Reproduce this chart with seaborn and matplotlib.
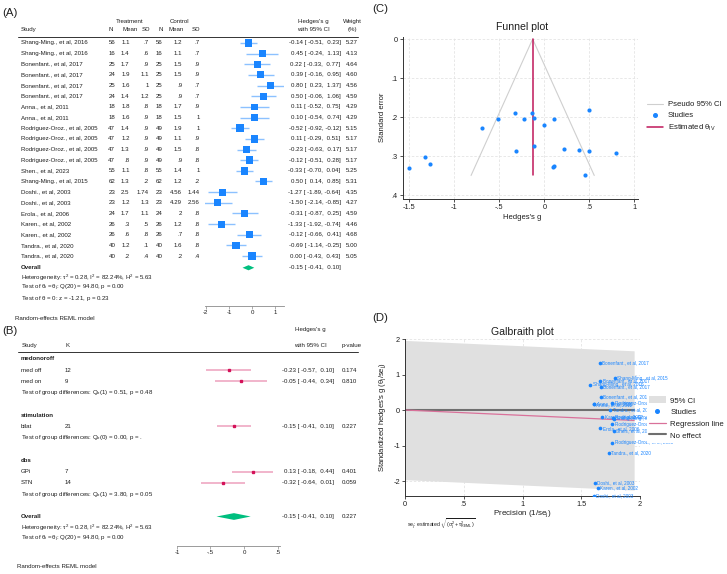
import numpy as np
import matplotlib
matplotlib.use('Agg')
import matplotlib.pyplot as plt
import matplotlib.transforms as mtransforms
from matplotlib.lines import Line2D
from matplotlib.patches import Patch
import seaborn as sns

sns.set_theme(style='white')
plt.rcParams['font.family'] = ['Liberation Sans', 'DejaVu Sans']
plt.rcParams['mathtext.fontset'] = 'custom'
plt.rcParams['mathtext.rm'] = 'Liberation Sans'
plt.rcParams['mathtext.it'] = 'Liberation Sans:italic'
plt.rcParams['mathtext.bf'] = 'Liberation Sans:bold'

#~~~~~~~~~~~~~~~~~~~~~~~~~~~~~~~~~~~~~~~~~~#
### Data.
#~~~~~~~~~~~~~~~~~~~~~~~~~~~~~~~~~~~~~~~~~~#

studies = ['Shang-Ming., et al, 2016', 'Shang-Ming., et al, 2016', 'Bonenfant., et al, 2017',
           'Bonenfant., et al, 2017', 'Bonenfant., et al, 2017', 'Bonenfant., et al, 2017',
           'Anna., et al, 2011', 'Anna., et al, 2011', 'Rodriguez-Oroz., et al, 2005',
           'Rodriguez-Oroz., et al, 2005', 'Rodriguez-Oroz., et al, 2005', 'Rodriguez-Oroz., et al, 2005',
           'Shen., et al, 2023', 'Shang-Ming., et al, 2015', 'Doshi., et al, 2003', 'Doshi., et al, 2003',
           'Erola., et al, 2006', 'Karen., et al, 2002', 'Karen., et al, 2002', 'Tandra., et al, 2020',
           'Tandra., et al, 2020']
n_trt = [56, 16, 25, 24, 25, 24, 18, 18, 47, 47, 47, 47, 55, 62, 23, 23, 24, 26, 26, 40, 40]
mean_trt = ['1.1', '1.4', '1.7', '1.9', '1.6', '1.4', '1.8', '1.6', '1.4', '1.2', '1.3', '.8', '1.1',
            '1.3', '2.5', '1.2', '1.7', '.3', '.6', '1.2', '.2']
sd_trt = ['.7', '.6', '.9', '1.1', '1', '1.2', '.8', '.9', '.9', '.9', '.9', '.9', '.8', '.2', '1.74',
          '1.3', '1.1', '.5', '.8', '.1', '.4']
n_ctl = [56, 16, 25, 25, 25, 25, 18, 18, 49, 49, 49, 49, 55, 62, 23, 23, 24, 26, 26, 40, 40]
mean_ctl = ['1.2', '1.1', '1.5', '1.5', '.9', '.9', '1.7', '1.5', '1.9', '1.1', '1.5', '.9', '1.4',
            '1.2', '4.56', '4.29', '2', '1.2', '.7', '1.6', '.2']
sd_ctl = ['.7', '.7', '.9', '.9', '.7', '.7', '.9', '1', '1', '.9', '.8', '.8', '1', '.2', '1.44',
          '2.56', '.8', '.8', '.8', '.8', '.4']
g = [-0.14, 0.45, 0.22, 0.39, 0.80, 0.50, 0.11, 0.10, -0.52, 0.11, -0.23, -0.12, -0.33, 0.50,
     -1.27, -1.50, -0.31, -1.33, -0.12, -0.69, 0.00]
g_lo = [-0.51, -0.24, -0.33, -0.16, 0.23, -0.06, -0.52, -0.54, -0.92, -0.29, -0.63, -0.51, -0.70,
        0.14, -1.89, -2.14, -0.87, -1.92, -0.66, -1.14, -0.43]
g_hi = [0.23, 1.13, 0.77, 0.95, 1.37, 1.06, 0.75, 0.74, -0.12, 0.51, 0.17, 0.28, 0.04, 0.85,
        -0.64, -0.85, 0.25, -0.74, 0.41, -0.25, 0.43]
weight = [5.27, 4.13, 4.64, 4.60, 4.56, 4.59, 4.29, 4.29, 5.15, 5.17, 5.17, 5.17, 5.25, 5.31,
          4.35, 4.27, 4.59, 4.46, 4.68, 5.00, 5.05]
overall = (-0.15, -0.41, 0.10)

## Funnel plot values (standard errors).
se = [0.189, 0.349, 0.281, 0.283, 0.291, 0.286, 0.324, 0.327, 0.204, 0.204, 0.204, 0.202, 0.189,
      0.181, 0.319, 0.329, 0.286, 0.301, 0.273, 0.227, 0.219]
theta_iv = -0.13

## Galbraith plot values.
precision = [1.780, 1.578, 1.669, 1.666, 1.656, 1.663, 1.612, 1.608, 1.763, 1.763, 1.763, 1.766,
             1.780, 1.788, 1.618, 1.605, 1.663, 1.643, 1.680, 1.737, 1.746]
z_std = [-0.249, 0.710, 0.367, 0.650, 1.325, 0.831, 0.177, 0.161, -0.917, 0.194, -0.406, -0.212,
         -0.587, 0.894, -2.055, -2.407, -0.515, -2.185, -0.202, -1.198, 0.000]

## Subgroup data.
groups = ['medonoroff', 'stimulation', 'dbs']
grp_levels = [['med off', 'med on'], ['bilat'], ['GPi', 'STN']]
grp_k = [[12, 9], [21], [7, 14]]
grp_g = [[-0.23, -0.05], [-0.15], [0.13, -0.32]]
grp_lo = [[-0.57, -0.44], [-0.41], [-0.18, -0.64]]
grp_hi = [[0.10, 0.34], [0.10], [0.44, 0.01]]
grp_p = [['0.174', '0.810'], ['0.227'], ['0.401', '0.059']]
grp_test = [r'$\mathregular{Q_b(1)}$ = 0.51, p = 0.48', r'$\mathregular{Q_b(0)}$ = 0.00, p = .',
            r'$\mathregular{Q_b(1)}$ = 3.80, p = 0.05']

## Styles.
blue = '#1A85FF'
red = '#D41159'
green = '#00BF7F'
ink = '#1e1e1e'
fs = 4.4

#~~~~~~~~~~~~~~~~~~~~~~~~~~~~~~~~~~~~~~~~~~#
### Canvas.
#~~~~~~~~~~~~~~~~~~~~~~~~~~~~~~~~~~~~~~~~~~#

W, H = 727, 574
fig = plt.figure(figsize=(W / 100, H / 100), dpi=100)
fx = lambda px: px / W
fy = lambda py: 1 - py / H

def fmt_ci(est, lo, hi):
    return f'{est:.2f} [{lo:6.2f}, {hi:5.2f}]'

def hline(py, x0=18, x1=358):
    fig.add_artist(Line2D([fx(x0), fx(x1)], [fy(py)] * 2, transform=fig.transFigure, color='#333333', lw=0.7))

def style_forest_axis(ax, ticks, labels):
    sns.despine(ax=ax, left=True, top=True, right=True)
    ax.set_yticks([])
    ax.set_xticks(ticks)
    ax.set_xticklabels(labels, fontsize=fs, color=ink)
    ax.spines['bottom'].set(color='#8a8a8a', linewidth=0.6)
    ax.tick_params(axis='x', bottom=True, length=2, width=0.5, color='#8a8a8a', pad=1)
    ax.set_facecolor('none')

#~~~~~~~~~~~~~~~~~~~~~~~~~~~~~~~~~~~~~~~~~~#
### Panel A: forest plot.
#~~~~~~~~~~~~~~~~~~~~~~~~~~~~~~~~~~~~~~~~~~#

axA = fig.add_axes([fx(205), fy(306), fx(79), 269 / H])
tA = mtransforms.blended_transform_factory(fig.transFigure, axA.transData)
rows = np.arange(len(studies))

axA.hlines(rows, g_lo, g_hi, color=blue, alpha=0.5, lw=1.0)
axA.scatter(g, rows, s=np.array(weight) * 5.5, marker='s', color=blue, linewidths=0, zorder=3)
r_ov = 21.1
axA.fill([overall[1], overall[0], overall[2], overall[0]], [r_ov, r_ov - 0.24, r_ov, r_ov + 0.24],
         color=green, lw=0)
axA.set(xlim=(-2.04, 1.39), ylim=(24.69, -0.56))
style_forest_axis(axA, [-2, -1, 0, 1], ['-2', '-1', '0', '1'])

## Headers.
kw = dict(transform=tA, fontsize=fs, color=ink, va='center')
for x, s in [(130, 'Treatment'), (180, 'Control'), (313, "Hedges's g"), (352, 'Weight')]:
    axA.text(fx(x), -1.97, s, ha='center', **kw)
axA.text(fx(21), -1.22, 'Study', ha='left', **kw)
for x, s in [(111, 'N'), (130, 'Mean'), (145.7, 'SD'), (160.3, 'N'), (175.7, 'Mean'), (196, 'SD'),
             (313, 'with 95% CI'), (352, '(%)')]:
    axA.text(fx(x), -1.22, s, ha='center', **kw)
hline(37)

## Rows.
for i in rows:
    axA.text(fx(21), i, studies[i], ha='left', **kw)
    for x, s in [(115.3, n_trt[i]), (129.7, mean_trt[i]), (149, sd_trt[i]), (162.3, n_ctl[i]),
                 (182.3, mean_ctl[i]), (199.7, sd_ctl[i]), (340.7, fmt_ci(g[i], g_lo[i], g_hi[i])),
                 (358, f'{weight[i]:.2f}')]:
        axA.text(fx(x), i, str(s), ha='right', **kw)
axA.text(fx(21), r_ov, 'Overall', ha='left', fontweight='bold', **kw)
axA.text(fx(340.7), r_ov, fmt_ci(*overall), ha='right', **kw)
axA.text(fx(21), 22.05, r'Heterogeneity: $\mathregular{\tau^2}$ = 0.28, $\mathregular{I^2}$ = 82.24%, '
         r'$\mathregular{H^2}$ = 5.63', ha='left', **kw)
axA.text(fx(21), 23.0, r'Test of $\mathregular{\theta_i = \theta_j}$: Q(20) = 94.80, p = 0.00', ha='left', **kw)
axA.text(fx(21), 24.0, r'Test of $\mathregular{\theta}$ = 0: z = -1.21, p = 0.23', ha='left', **kw)
axA.text(fx(15), 25.82, 'Random-effects REML model', ha='left', **kw)
fig.text(fx(2), fy(12.5), '(A)', fontsize=8.2, color=ink, ha='left', va='center')

#~~~~~~~~~~~~~~~~~~~~~~~~~~~~~~~~~~~~~~~~~~#
### Panel B: subgroup forest plot.
#~~~~~~~~~~~~~~~~~~~~~~~~~~~~~~~~~~~~~~~~~~#

axB = fig.add_axes([fx(176.7), fy(546), fx(103.3), 194 / H])
tB = mtransforms.blended_transform_factory(fig.transFigure, axB.transData)
kw = dict(transform=tB, fontsize=fs, color=ink, va='center')

r = 0
for gi, grp in enumerate(groups):
    axB.text(fx(21), r, grp, ha='left', fontweight='bold', **kw)
    for j, lvl in enumerate(grp_levels[gi]):
        rr = r + 1 + j
        axB.hlines(rr, grp_lo[gi][j], grp_hi[gi][j], color=red, alpha=0.4, lw=1.1)
        axB.plot(grp_g[gi][j], rr, marker='s', ms=2.0, color=red, ls='')
        axB.text(fx(21), rr, lvl, ha='left', **kw)
        axB.text(fx(65), rr, str(grp_k[gi][j]), ha='left', **kw)
        axB.text(fx(334.3), rr, fmt_ci(grp_g[gi][j], grp_lo[gi][j], grp_hi[gi][j]), ha='right', **kw)
        axB.text(fx(357), rr, grp_p[gi][j], ha='right', **kw)
    axB.text(fx(21), r + 1 + len(grp_levels[gi]), 'Test of group differences: ' + grp_test[gi],
             ha='left', **kw)
    r += len(grp_levels[gi]) + 3

axB.fill([overall[1], overall[0], overall[2], overall[0]], [r, r - 0.3, r, r + 0.3], color=green, lw=0)
axB.text(fx(21), r, 'Overall', ha='left', fontweight='bold', **kw)
axB.text(fx(334.3), r, fmt_ci(*overall), ha='right', **kw)
axB.text(fx(357), r, '0.227', ha='right', **kw)
axB.text(fx(21), r + 1, r'Heterogeneity: $\mathregular{\tau^2}$ = 0.28, $\mathregular{I^2}$ = 82.24%, '
         r'$\mathregular{H^2}$ = 5.63', ha='left', **kw)
axB.text(fx(21), r + 2, r'Test of $\mathregular{\theta_i = \theta_j}$: Q(20) = 94.80, p = 0.00', ha='left', **kw)
axB.text(fx(17), 18.4, 'Random-effects REML model', ha='left', **kw)
axB.set(xlim=(-1.004, 0.537), ylim=(16.62, -0.62))
style_forest_axis(axB, [-1, -0.5, 0, 0.5], ['-1', '-.5', '0', '.5'])

axB.text(fx(310), -2.58, "Hedges's g", ha='center', **kw)
axB.text(fx(310), -1.24, 'with 95% CI', ha='center', **kw)
axB.text(fx(22), -1.24, 'Study', ha='left', **kw)
axB.text(fx(65), -1.24, 'K', ha='left', **kw)
axB.text(fx(342), -1.24, 'p-value', ha='left', **kw)
hline(352)
fig.text(fx(2), fy(331), '(B)', fontsize=8.2, color=ink, ha='left', va='center')

#~~~~~~~~~~~~~~~~~~~~~~~~~~~~~~~~~~~~~~~~~~#
### Panels C & D shared styling.
#~~~~~~~~~~~~~~~~~~~~~~~~~~~~~~~~~~~~~~~~~~#

def style_stata(ax):
    sns.despine(ax=ax)
    for side in ['left', 'bottom']:
        ax.spines[side].set(color='#333333', linewidth=0.7)
    ax.tick_params(left=True, bottom=True, length=2.2, width=0.6, color='#333333',
                   labelsize=5.3, labelcolor=ink, pad=1.5)
    ax.grid(True, color='#e4e4e4', lw=0.6, ls=(0, (3, 2)))
    ax.set_axisbelow(True)

#~~~~~~~~~~~~~~~~~~~~~~~~~~~~~~~~~~~~~~~~~~#
### Panel C: funnel plot.
#~~~~~~~~~~~~~~~~~~~~~~~~~~~~~~~~~~~~~~~~~~#

axC = fig.add_axes([fx(403), fy(199.3), fx(235), 162.6 / H])
se_max = max(se)
axC.plot([theta_iv - 1.96 * se_max, theta_iv, theta_iv + 1.96 * se_max], [se_max, 0, se_max],
         color='#cfcfcf', lw=0.8)
axC.plot([theta_iv, theta_iv], [0, se_max], color='#C0185A', lw=1.1)
sns.scatterplot(x=g, y=se, ax=axC, color=blue, s=9, linewidth=0, zorder=3)
axC.set(xlim=(-1.57, 1.04), ylim=(0.41, -0.006))
axC.set_xticks([-1.5, -1, -0.5, 0, 0.5, 1])
axC.set_xticklabels(['-1.5', '-1', '-.5', '0', '.5', '1'])
axC.set_yticks([0, 0.1, 0.2, 0.3, 0.4])
axC.set_yticklabels(['0', '.1', '.2', '.3', '.4'])
style_stata(axC)
handles = [Line2D([], [], color='#cfcfcf', lw=0.8),
           Line2D([], [], marker='o', ls='', color=blue, ms=2.6),
           Line2D([], [], color='#C0185A', lw=1.1)]
axC.legend(handles, ['Pseudo 95% CI', 'Studies', r'Estimated $\mathregular{\theta_{IV}}$'],
           loc='center left', bbox_to_anchor=(fx(643), fy(117)), bbox_transform=fig.transFigure,
           frameon=False, fontsize=5.6, handlelength=2.1, handletextpad=0.6, labelspacing=0.45,
           borderpad=0, labelcolor=ink)
fig.text(fx(521.7), fy(26.7), 'Funnel plot', fontsize=7.6, color=ink, ha='center', va='center')
fig.text(fx(521.7), fy(217.7), "Hedges's g", fontsize=5.5, color=ink, ha='center', va='center')
fig.text(fx(383), fy(117), 'Standard error', fontsize=5.5, color=ink, ha='center', va='center', rotation=90)
fig.text(fx(372), fy(8.5), '(C)', fontsize=8.2, color=ink, ha='left', va='center')

#~~~~~~~~~~~~~~~~~~~~~~~~~~~~~~~~~~~~~~~~~~#
### Panel D: Galbraith plot.
#~~~~~~~~~~~~~~~~~~~~~~~~~~~~~~~~~~~~~~~~~~#

axD = fig.add_axes([fx(405), fy(496), fx(235), 157 / H])
xb = np.array([0, 1.95])
axD.fill_between(xb, overall[0] * xb - 1.96, overall[0] * xb + 1.96, color='#e0e0e0', lw=0, zorder=1)
axD.plot(xb, [0, 0], color='#6f6f6f', lw=1.5, zorder=2)
axD.plot(xb, overall[0] * xb, color='#D9719A', lw=0.9, zorder=2)
sns.scatterplot(x=precision, y=z_std, ax=axD, color=blue, s=7, linewidth=0, zorder=3)
for px, pz, name in zip(precision, z_std, studies):
    axD.text(px + 0.02, pz, name, fontsize=3.3, color=blue, va='center', ha='left', zorder=3)
axD.set(xlim=(0, 2.0), ylim=(-2.42, 2.0))
axD.set_xticks([0, 0.5, 1, 1.5, 2])
axD.set_xticklabels(['0', '.5', '1', '1.5', '2'])
axD.set_yticks([-2, -1, 0, 1, 2])
axD.set_yticklabels(['-2', '-1', '0', '1', '2'])
style_stata(axD)
handles = [Patch(facecolor='#e0e0e0', edgecolor='none'),
           Line2D([], [], marker='o', ls='', color=blue, ms=2.6),
           Line2D([], [], color='#D9719A', lw=0.9),
           Line2D([], [], color='#6f6f6f', lw=1.5)]
legD = axD.legend(handles, ['95% CI', 'Studies', 'Regression line', 'No effect'],
                  loc='center left', bbox_to_anchor=(fx(643), fy(418)), bbox_transform=fig.transFigure,
                  frameon=True, facecolor='white', edgecolor='white', framealpha=1, fancybox=False,
                  fontsize=5.6, handlelength=2.1, handleheight=1.0, handletextpad=0.6,
                  labelspacing=0.45, borderpad=0.3, labelcolor=ink)
legD.set_zorder(10)
fig.text(fx(522.7), fy(332), 'Galbraith plot', fontsize=7.6, color=ink, ha='center', va='center')
fig.text(fx(522.7), fy(514), r'Precision ($\mathregular{1/se_j}$)', fontsize=5.8, color=ink,
         ha='center', va='center')
fig.text(fx(383), fy(417), r"Standardized hedges's g ($\mathregular{\theta_j/se_j}$)", fontsize=5.5,
         color=ink, ha='center', va='center', rotation=90)
fig.text(fx(406.7), fy(524.5), r'$\mathregular{se_j}$: estimated $\mathregular{\sqrt{(\sigma_j^2+\tau^2_{REML})}}$',
         fontsize=3.8, color=ink, ha='left', va='center')
fig.text(fx(372), fy(318), '(D)', fontsize=8.2, color=ink, ha='left', va='center')

plt.savefig('out.png', dpi=100)
